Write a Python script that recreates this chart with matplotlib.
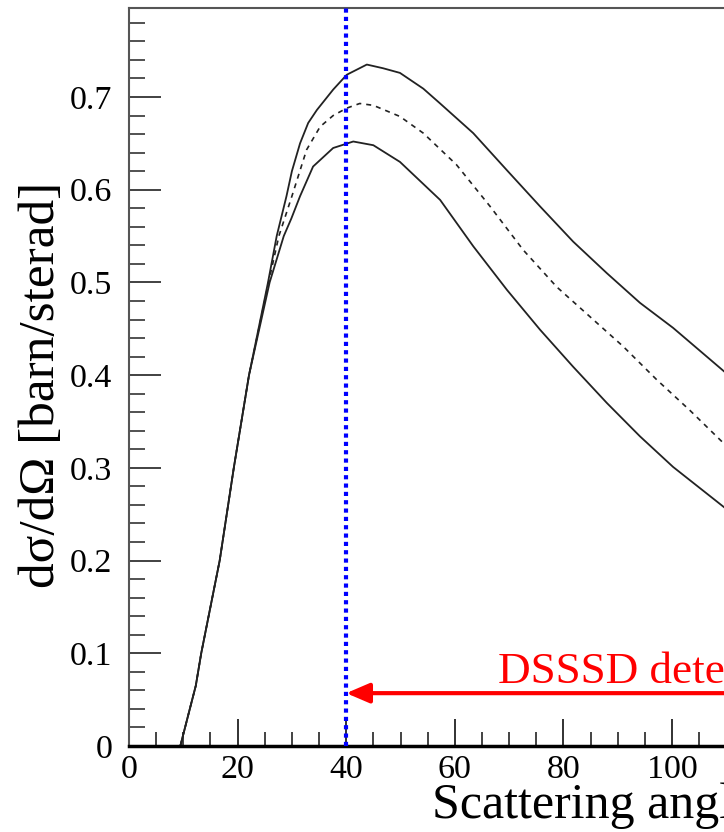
import matplotlib
matplotlib.use('Agg')
import matplotlib.pyplot as plt
from matplotlib.ticker import MultipleLocator, FuncFormatter

plt.rcParams['font.family'] = ['Liberation Serif', 'DejaVu Serif']

# ---- data ----
upper_x = [9.45, 11.2, 12.3, 13.3, 16.7, 19.3, 22.1, 25.6, 27.2, 29.0, 30.0, 31.5, 33.0,
           34.6, 37.6, 40.1, 43.8, 46.8, 49.9, 54.2, 57.3, 63.4, 69.6, 75.7, 81.8, 88.0,
           94.1, 100.2, 108.2, 111.0]
upper_y = [0.0, 0.04, 0.065, 0.1, 0.2, 0.3, 0.4, 0.5, 0.55, 0.593, 0.620, 0.650, 0.672,
           0.686, 0.708, 0.724, 0.735, 0.731, 0.726, 0.709, 0.693, 0.661, 0.621, 0.582, 0.544, 0.510,
           0.478, 0.451, 0.411, 0.397]

central_x = [9.45, 11.2, 12.3, 13.3, 16.7, 19.3, 22.1, 25.7, 27.6, 30.0, 32.7, 35.2,
             37.6, 40.1, 42.5, 45.0, 49.9, 54.2, 60.3, 66.5, 72.6, 78.8, 84.9, 91.0,
             97.2, 103.3, 108.2, 111.0]
central_y = [0.0, 0.04, 0.065, 0.1, 0.2, 0.3, 0.4, 0.5, 0.55, 0.593, 0.643, 0.668,
             0.680, 0.688, 0.693, 0.691, 0.679, 0.661, 0.627, 0.582, 0.535, 0.495, 0.463, 0.431,
             0.395, 0.362, 0.334, 0.318]

lower_x = [9.45, 11.2, 12.3, 13.3, 16.7, 19.3, 22.1, 25.9, 28.5, 29.9, 31.5, 33.9, 37.6,
           41.3, 45.0, 49.9, 57.3, 63.4, 69.6, 75.7, 81.8, 88.0, 94.1, 100.2, 108.2, 111.0]
lower_y = [0.0, 0.04, 0.065, 0.1, 0.2, 0.3, 0.4, 0.5, 0.55, 0.569, 0.593, 0.625, 0.645,
           0.652, 0.648, 0.630, 0.589, 0.539, 0.492, 0.449, 0.409, 0.370, 0.334, 0.301, 0.264, 0.251]

detector_edge = 40.0
arrow_y = 0.057
arrow_start = 140.0
x_max = 180.0
y_max = 0.796

# ---- figure ----
W, H = 724, 832
fig = plt.figure(figsize=(W / 100, H / 100), dpi=100)
px_per_unit = 5.43
ax = fig.add_axes([129 / W, 86 / H, x_max * px_per_unit / W, 738 / H])
ax.set_xlim(0, x_max)
ax.set_ylim(0, y_max)

line_col = '#222222'
ax.plot(upper_x, upper_y, color=line_col, lw=1.3, solid_joinstyle='round')
ax.plot(central_x, central_y, color=line_col, lw=1.2, linestyle=(0, (3, 3)))
ax.plot(lower_x, lower_y, color=line_col, lw=1.3, solid_joinstyle='round')

ax.axvline(detector_edge, color='#0000ff', lw=3, linestyle=(0, (1, 1)), zorder=4)

ax.annotate('', xy=(detector_edge, arrow_y), xytext=(arrow_start, arrow_y),
            arrowprops=dict(arrowstyle='-|>,head_length=0.7,head_width=0.3',
                            color='#ff0000', lw=3, mutation_scale=20,
                            shrinkA=0, shrinkB=0), zorder=5)

fig.text(498 / W, (H - 683) / H, 'DSSSD detection range', color='#ff0000',
         fontsize=32.5, ha='left', va='baseline')

# ticks
ax.xaxis.set_major_locator(MultipleLocator(20))
ax.xaxis.set_minor_locator(MultipleLocator(5))
ax.yaxis.set_major_locator(MultipleLocator(0.1))
ax.yaxis.set_minor_locator(MultipleLocator(0.02))
ax.yaxis.set_major_formatter(FuncFormatter(lambda v, p: '0' if abs(v) < 1e-9 else f'{v:.1f}'))
ax.xaxis.set_major_formatter(FuncFormatter(lambda v, p: f'{v:.0f}' if v <= 105 else ''))

ax.tick_params(axis='y', which='major', direction='in', length=23, width=1.3,
               pad=12, labelsize=24.5, colors='#333333', labelcolor='black')
ax.tick_params(axis='y', which='minor', direction='in', length=11.5, width=1.2,
               colors='#333333')
ax.tick_params(axis='x', which='major', direction='in', length=19.5, width=1.3,
               pad=6, labelsize=24.5, colors='#222222', labelcolor='black')
ax.tick_params(axis='x', which='minor', direction='in', length=10, width=1.2,
               colors='#222222')
ax.tick_params(top=False, right=False, which='both')

for s in ['left', 'top', 'right']:
    ax.spines[s].set_color('#555555')
    ax.spines[s].set_linewidth(1.5)
ax.spines['bottom'].set_color('black')
ax.spines['bottom'].set_linewidth(2.5)

fig.text(42 / W, (H - 385) / H, 'dσ/dΩ [barn/sterad]', rotation=90,
         fontsize=37, ha='center', va='center')
fig.text(432 / W, (H - 818) / H, 'Scattering angle [deg]', fontsize=36,
         ha='left', va='baseline')

fig.savefig('out.png', dpi=100)
